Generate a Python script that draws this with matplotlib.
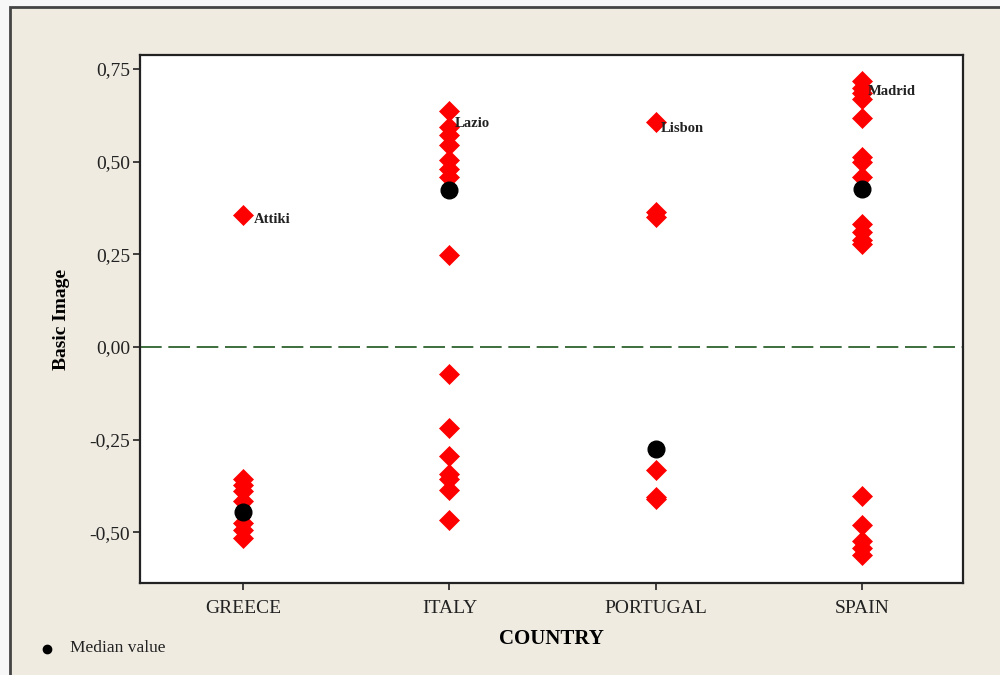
import matplotlib
matplotlib.use("Agg")
import matplotlib.pyplot as plt
from matplotlib.patches import Rectangle
from matplotlib.lines import Line2D

countries = ["GREECE", "ITALY", "PORTUGAL", "SPAIN"]

greece_vals = [0.356, -0.355, -0.372, -0.39, -0.415, -0.475, -0.495, -0.515]
italy_vals = [0.637, 0.595, 0.572, 0.545, 0.505, 0.48, 0.46, 0.248,
              -0.073, -0.218, -0.295, -0.343, -0.356, -0.386, -0.467]
portugal_vals = [0.608, 0.365, 0.352, -0.333, -0.405, -0.41]
spain_vals = [0.718, 0.70, 0.685, 0.67, 0.618, 0.513, 0.498, 0.458,
              0.333, 0.31, 0.29, 0.278, -0.402, -0.48, -0.523, -0.542, -0.562]
series = [greece_vals, italy_vals, portugal_vals, spain_vals]

medians = [-0.445, 0.424, -0.276, 0.426]

labels_text = ["Attiki", "Lazio", "Lisbon", "Madrid"]
labels_at = [(1, 0.356), (2, 0.637), (3, 0.608), (4, 0.70)]
label_offsets = [(8, -3), (4, -9), (4, -5), (4, -3)]

yticks = [0.75, 0.50, 0.25, 0.00, -0.25, -0.50]
ytick_labels = ["0,75", "0,50", "0,25", "0,00", "-0,25", "-0,50"]

serif = ["Liberation Serif", "DejaVu Serif"]
plt.rcParams["font.family"] = serif

bg = "#EFEBE1"
fig = plt.figure(figsize=(10, 6.75), dpi=100)
fig.patch.set_facecolor("#F7F7F7")
frame = Rectangle((10 / 1000, -0.02), 1.05, 1 - 7 / 675 + 0.02, transform=fig.transFigure,
                  facecolor=bg, edgecolor="#444444", linewidth=2.0, zorder=-10)
fig.add_artist(frame)

ax = fig.add_axes([0.14, 0.1363, 0.823, 0.7822])
ax.set_zorder(1)
ax.set_facecolor("white")

ax.axhline(0, color="#1C561C", linestyle=(0, (13, 4)), linewidth=1.2, zorder=1)

for i, vals in enumerate(series):
    x = [i + 1] * len(vals)
    ax.plot(x, vals, linestyle="none", marker="D", markersize=10.5,
            markerfacecolor="#FF0000", markeredgecolor="#FF0000", markeredgewidth=0.5, zorder=2)

ax.plot(range(1, 5), medians, linestyle="none", marker="o", markersize=12,
        markerfacecolor="black", markeredgecolor="black", zorder=3)

for txt, (xv, yv), off in zip(labels_text, labels_at, label_offsets):
    ax.annotate(txt, (xv, yv), xytext=off, textcoords="offset points",
                fontsize=10.5, fontweight="bold", va="center", ha="left", color="#222222")

ax.set_xlim(0.5, 4.49)
ax.set_ylim(-0.637, 0.788)
ax.set_xticks(range(1, 5))
ax.set_xticklabels(countries, fontsize=14, color="#222222")
ax.set_yticks(yticks)
ax.set_yticklabels(ytick_labels, fontsize=14, color="#222222")
ax.tick_params(direction="out", length=5, width=1.2, colors="#222222", pad=2)
ax.tick_params(axis="x", pad=7)
for s in ax.spines.values():
    s.set_linewidth(1.6)
    s.set_color("#222222")

ax.set_xlabel("COUNTRY", fontsize=15, fontweight="bold", labelpad=9)
ax.set_ylabel("Basic Image", fontsize=14, fontweight="bold", labelpad=14)

fig.add_artist(Line2D([0.047], [1 - 649 / 675], transform=fig.transFigure, linestyle="none",
                      marker="o", markersize=6, markerfacecolor="black", markeredgecolor="black"))
fig.text(0.07, 1 - 648 / 675, "Median value", fontsize=12.5, va="center", ha="left", color="#222222")

fig.savefig("out.png", dpi=100, facecolor=fig.get_facecolor())
